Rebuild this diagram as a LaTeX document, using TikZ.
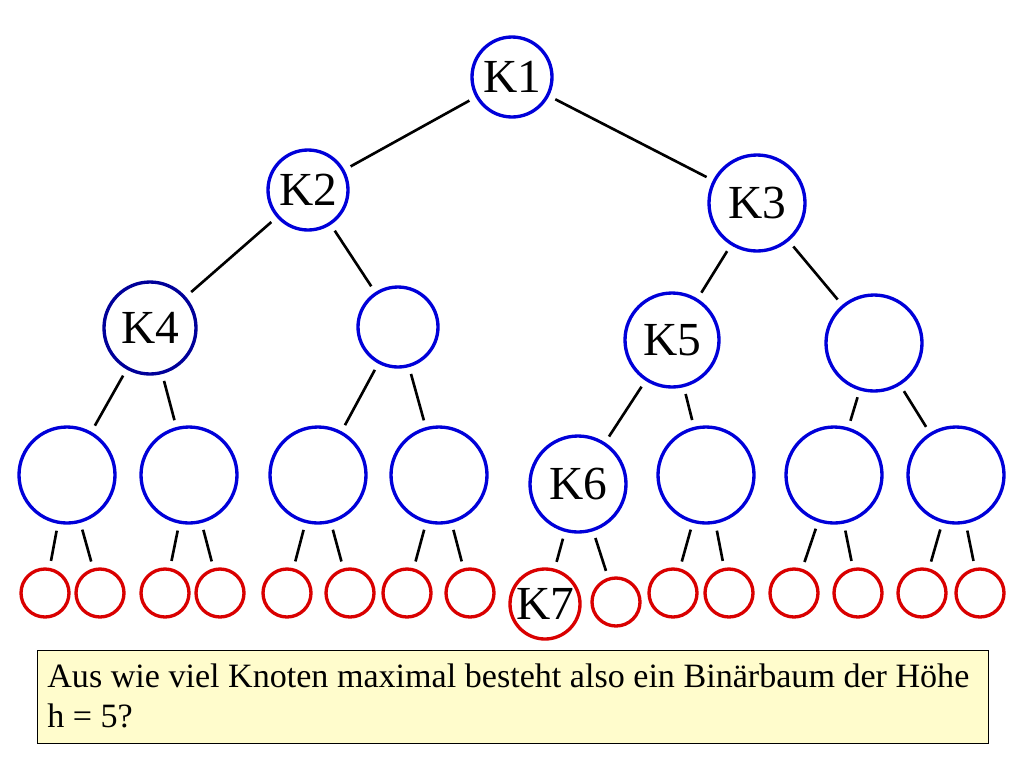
\documentclass[tikz,border=0pt]{standalone}
\usepackage{fontspec}
\setmainfont{Liberation Serif}
\begin{document}
\begin{tikzpicture}[x=0.02cm,y=-0.02cm,
 bn/.style={circle,draw=blue!85!black,line width=1.9pt,inner sep=0pt,font=\fontsize{27}{30}\selectfont},
 rn/.style={circle,draw=red!85!black,line width=1.9pt,inner sep=0pt,minimum size=48*0.02cm,font=\fontsize{27}{30}\selectfont},
 ed/.style={line width=1.5pt,shorten >=4pt,shorten <=4pt}]
\useasboundingbox (0,0) rectangle (1024,768);
\node[bn,minimum size=80*0.02cm] (k1) at (512,77) {K1};
\node[bn,minimum size=80*0.02cm] (k2) at (308,190) {K2};
\node[bn,minimum size=96*0.02cm] (k3) at (757,203) {K3};
\node[bn,minimum size=92*0.02cm,draw=blue!60!black] (k4) at (150,328) {K4};
\node[bn,minimum size=80*0.02cm] (n5) at (398,327) {};
\node[bn,minimum size=94*0.02cm] (k5) at (672,340) {K5};
\node[bn,minimum size=96*0.02cm] (n7) at (874,343) {};
\foreach \x/\n in {67/a,189/b,318/c,439/d,706/f,834/g,956/h}
  \node[bn,minimum size=96*0.02cm] (\n) at (\x,475) {};
\node[bn,minimum size=96*0.02cm] (e) at (578,484) {K6};
\foreach \x/\n in {45/a1,100/a2,165/b1,220/b2,287/c1,350/c2,407/d1,470/d2,673/f1,729/f2,794/g1,858/g2,922/h1,980/h2}
  \node[rn] (\n) at (\x,593) {};
\node[rn,minimum size=70*0.02cm] (e1) at (545,604) {K7};
\node[rn] (e2) at (616,602) {};
\foreach \p/\c in {k1/k2,k1/k3,k2/k4,k2/n5,k3/k5,k3/n7,k4/a,k4/b,n5/c,n5/d,k5/e,k5/f,n7/g,n7/h,a/a1,a/a2,b/b1,b/b2,c/c1,c/c2,d/d1,d/d2,e/e1,e/e2,f/f1,f/f2,g/g1,g/g2,h/h1,h/h2}
  \draw[ed] (\p) -- (\c);
\node[draw=black,fill=yellow!20,line width=0.6pt,minimum width=951*0.02cm,minimum height=93*0.02cm,anchor=north west,inner sep=4pt] (box) at (37,650) {};
\node[anchor=north west,align=left,font=\fontsize{19.4}{23}\selectfont,inner sep=0pt] (txt) at (47,663) {Aus wie viel Knoten maximal besteht also ein Binärbaum der Höhe\\h = 5?};
\end{tikzpicture}
\end{document}
